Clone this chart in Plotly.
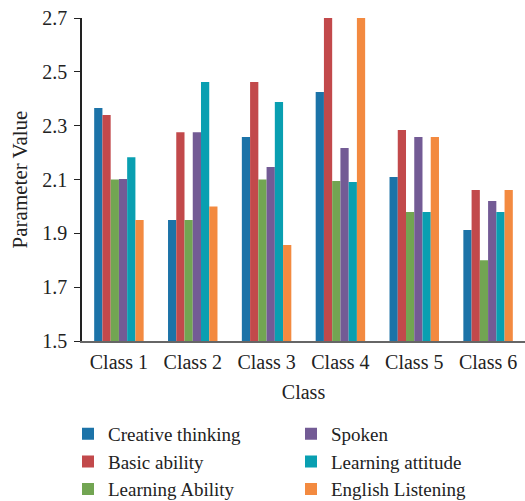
import plotly.graph_objects as go

classes = ["Class 1", "Class 2", "Class 3", "Class 4", "Class 5", "Class 6"]
creative_thinking = [2.366, 1.95, 2.258, 2.425, 2.109, 1.912]
basic_ability = [2.34, 2.276, 2.462, 2.70, 2.284, 2.061]
learning_ability = [2.10, 1.95, 2.10, 2.094, 1.979, 1.80]
spoken = [2.102, 2.276, 2.146, 2.217, 2.258, 2.02]
learning_attitude = [2.183, 2.462, 2.388, 2.091, 1.979, 1.979]
english_listening = [1.95, 2.0, 1.857, 2.70, 2.258, 2.061]
y_ticks = [1.5, 1.7, 1.9, 2.1, 2.3, 2.5, 2.7]
base_value = 1.5

series = [
    ("Creative thinking", creative_thinking, "#1c73a8", 1),
    ("Basic ability", basic_ability, "#c2494b", 3),
    ("Learning Ability", learning_ability, "#72a552", 5),
    ("Spoken", spoken, "#735b95", 2),
    ("Learning attitude", learning_attitude, "#099fb1", 4),
    ("English Listening", english_listening, "#f38a40", 6),
]

font_family = "Liberation Serif"
fig = go.Figure()
for name, vals, color, rank in series:
    fig.add_trace(go.Bar(
        name=name, x=classes, y=[v - base_value for v in vals], base=base_value,
        marker_color=color, marker_line_width=0, legendrank=rank,
    ))

fig.update_layout(
    width=525, height=501,
    margin=dict(l=82, r=0, t=18, b=160),
    barmode="group", bargap=0.33, bargroupgap=0,
    plot_bgcolor="white", paper_bgcolor="white",
    font=dict(family=font_family, size=20, color="#222222"),
    showlegend=True,
    legend=dict(
        orientation="h", x=68 / 525, xanchor="left", xref="container",
        y=0.172, yanchor="top", yref="container",
        entrywidth=178, entrywidthmode="pixels",
        font=dict(family=font_family, size=19, color="#222222"),
        tracegroupgap=0, itemsizing="constant",
    ),
)
fig.update_yaxes(
    range=[1.5, 2.7], tickvals=y_ticks, ticktext=[f"{v:.1f}" for v in y_ticks],
    showgrid=False, zeroline=False,
    showline=True, linecolor="#222222", linewidth=1.5,
    ticks="outside", ticklen=6, tickcolor="#222222", ticklabelstandoff=3,
    title=dict(text="Parameter Value", font=dict(size=21), standoff=9),
)
fig.update_xaxes(
    showgrid=False, showline=True, linecolor="#666666", linewidth=2,
    ticks="", ticklabelstandoff=2,
    title=dict(text="Class", font=dict(size=20), standoff=13),
)
fig.write_html("out.html", post_script="document.body.style.margin='0';",
               config={"displayModeBar": False})
